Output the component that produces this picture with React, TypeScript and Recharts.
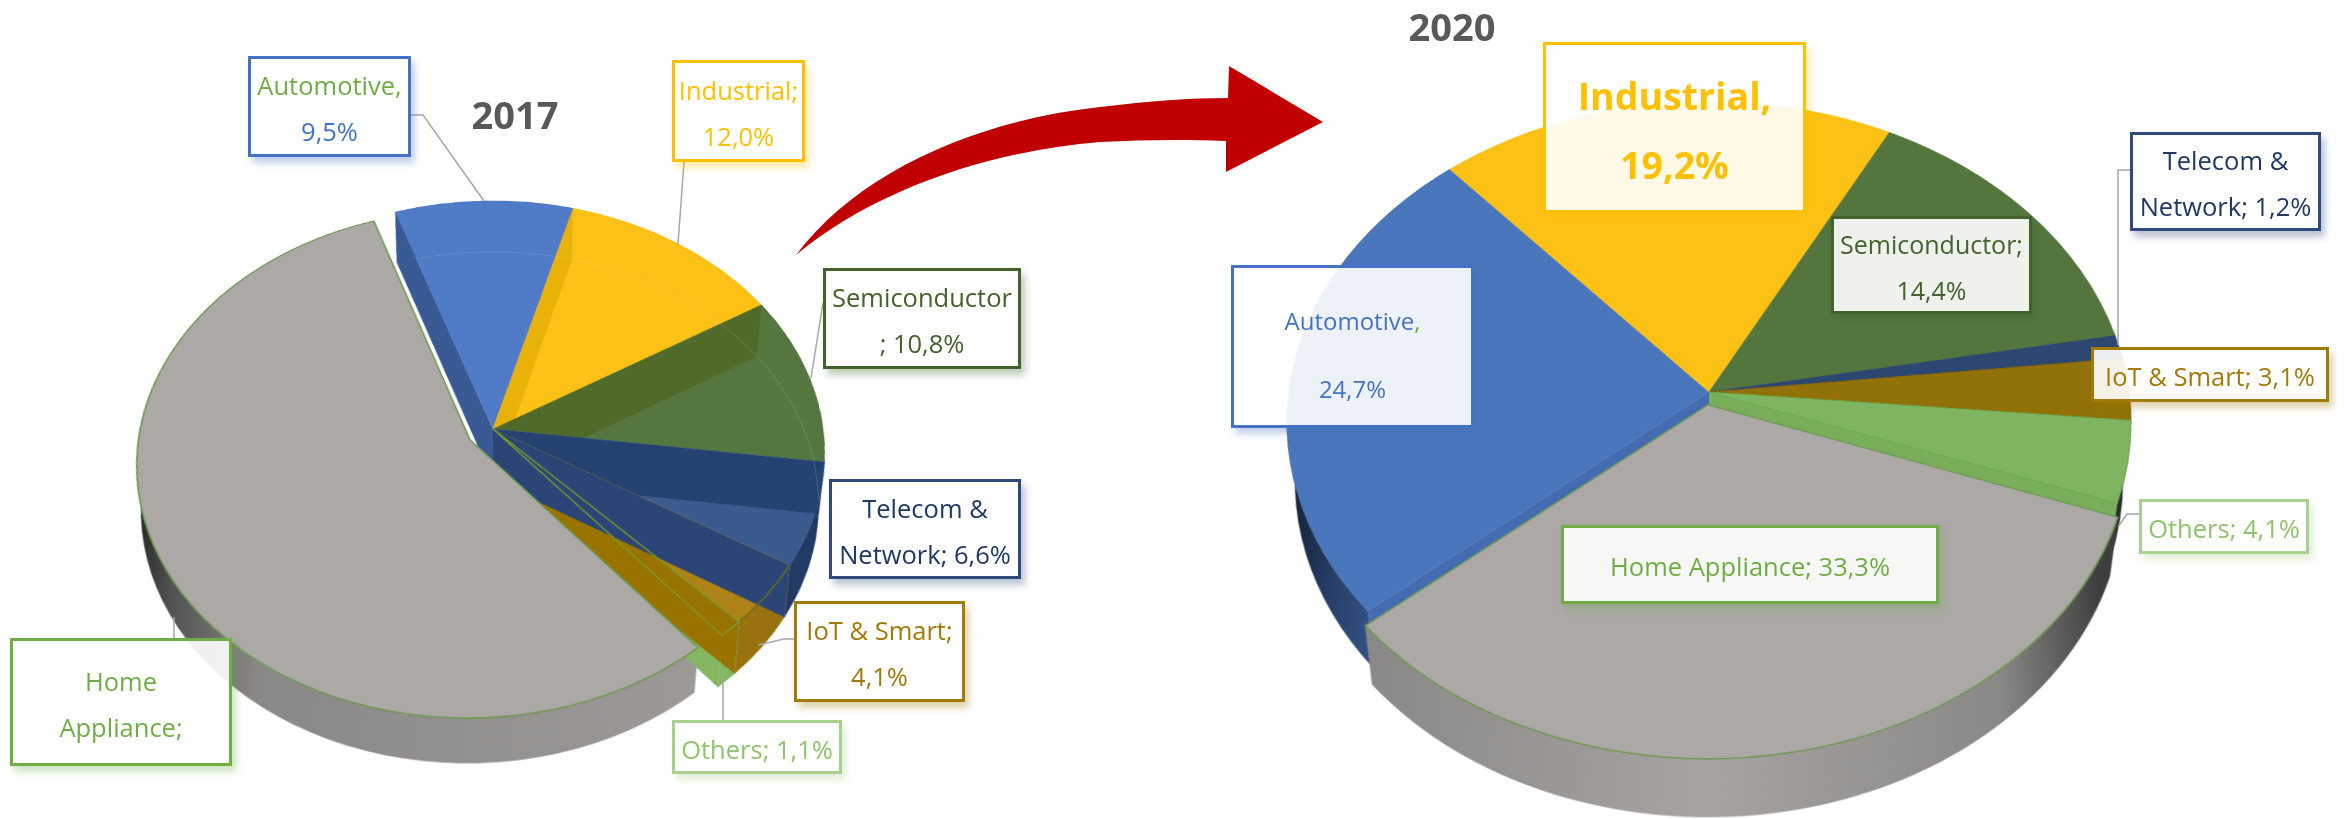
import { PieChart, Pie, Sector } from "recharts";

const categories = ["Automotive", "Industrial", "Semiconductor", "Telecom & Network", "IoT & Smart", "Others", "Home Appliance"];
const values2017 = [9.5, 12.0, 10.8, 6.6, 4.1, 1.1, 55.9];
const values2020 = [24.7, 19.2, 14.4, 1.2, 3.1, 4.1, 33.3];

const HOME = "Home Appliance";
const rows2017 = categories.map((name, i) => ({ name, value: values2017[i] }));
const rows2020 = categories.map((name, i) => ({ name, value: values2020[i] }));

// colours
const faces2017: any = { Automotive: "#507bc7", Industrial: "#fbc117", Semiconductor: "#55763f", "Telecom & Network": "#3b5a8f", "IoT & Smart": "#ad8216", Others: "#a07a08" };
const walls2017: any = { Industrial: "#e9b208", Semiconductor: "#506a29", "Telecom & Network": "#254370" };
const rims2017: any = { Automotive: "#3a5a96", Industrial: "#c49a10", Semiconductor: "#4b6a34", "Telecom & Network": "#223a66", "IoT & Smart": "#98720e", Others: "#85b662" };
const faces2020: any = { Automotive: "#4a76bb", Industrial: "#fcc115", Semiconductor: "#54763e", "Telecom & Network": "#2c4770", "IoT & Smart": "#917208", Others: "#7fb561" };

// geometry of a tilted disc
const TILT = 40.8;
const C_PAD = 130;

const pt = (cx: number, cy: number, r: number, deg: number) => {
  const a = (-deg * Math.PI) / 180;
  return [cx + r * Math.cos(a), cy + r * Math.sin(a)];
};

const sectorPath = (p: any) => {
  const [x0, y0] = pt(p.cx, p.cy, p.outerRadius, p.startAngle);
  const [x1, y1] = pt(p.cx, p.cy, p.outerRadius, p.endAngle);
  const large = Math.abs(p.startAngle - p.endAngle) > 180 ? 1 : 0;
  return `M${p.cx},${p.cy}L${x0},${y0}A${p.outerRadius},${p.outerRadius} 0 ${large} 1 ${x1},${y1}Z`;
};

const arcPath = (p: any) => {
  const [x0, y0] = pt(p.cx, p.cy, p.outerRadius, p.startAngle);
  const [x1, y1] = pt(p.cx, p.cy, p.outerRadius, p.endAngle);
  return `M${x0},${y0}A${p.outerRadius},${p.outerRadius} 0 0 1 ${x1},${y1}`;
};

// the underside of the disc is smaller than the top: radius r2, pushed down by d
const ribbonPath = (p: any, r2: number, d: number) => {
  const r = p.outerRadius;
  const [x0, y0] = pt(p.cx, p.cy, r, p.startAngle);
  const [x1, y1] = pt(p.cx, p.cy, r, p.endAngle);
  const [x2, y2] = pt(p.cx, p.cy + d, r2, p.endAngle);
  const [x3, y3] = pt(p.cx, p.cy + d, r2, p.startAngle);
  const large = Math.abs(p.startAngle - p.endAngle) > 180 ? 1 : 0;
  return `M${x0},${y0}A${r},${r} 0 ${large} 1 ${x1},${y1}L${x2},${y2}A${r2},${r2} 0 ${large} 0 ${x3},${y3}Z`;
};

const wallPath = (p: any, deg: number, r2: number, d: number) => {
  const [x, y] = pt(p.cx, p.cy, p.outerRadius, deg);
  const [x2, y2] = pt(p.cx, p.cy + d, r2, deg);
  return `M${p.cx},${p.cy}L${x},${y}L${x2},${y2}L${p.cx},${p.cy + d}Z`;
};

const nameOf = (p: any) => p.payload?.name ?? p.name;

const rimShape = (fills: any, r2: number, d: number) => (p: any) => {
  const fill = fills[nameOf(p)];
  return fill ? <path d={ribbonPath(p, r2, d)} fill={fill} stroke={fill} strokeWidth={0.5} /> : <g />;
};

// wall hanging under one edge of a slice
const edgeWall = (fills: any, r2: number, d: number, edge: "startAngle" | "endAngle") => (p: any) => {
  const fill = fills[nameOf(p)];
  return fill ? <path d={wallPath(p, p[edge], r2, d)} fill={fill} /> : <g />;
};

const flatFace = (fills: any, strokes: any) => (p: any) => {
  const name = nameOf(p);
  const fill = fills[name];
  if (!fill) return <g />;
  return <Sector cx={p.cx} cy={p.cy} innerRadius={0} outerRadius={p.outerRadius} startAngle={p.startAngle} endAngle={p.endAngle} fill={fill} stroke={strokes[name] ?? fill} strokeWidth={strokes[name] ? 1.2 : 0.6} />;
};

// translucent look of the 2017 slices: bottom arc and start wall seen through the top
const glassFace = (r2: number, d: number) => (p: any) => {
  const name = nameOf(p);
  const fill = faces2017[name];
  if (!fill) return <g />;
  const id = "clip-" + name.replace(/[^a-zA-Z]/g, "");
  return (
    <g>
      <clipPath id={id}><path d={sectorPath(p)} /></clipPath>
      <path d={sectorPath(p)} fill={fill} stroke={fill} strokeWidth={0.6} />
      <g clipPath={`url(#${id})`}>
        {walls2017[name] && <path d={wallPath(p, p.startAngle, r2, d)} fill={walls2017[name]} />}
        <circle cx={p.cx} cy={p.cy + d} r={r2} fill="none" stroke="rgba(255,255,255,0.16)" strokeWidth={1} />
      </g>
    </g>
  );
};

const othersOutline = (p: any) => {
  const name = nameOf(p);
  if (name === "Others") return <path d={sectorPath(p)} fill="none" stroke="#7c9a2e" strokeWidth={1.5} />;
  if (name === "IoT & Smart") return <path d={arcPath(p)} fill="none" stroke="#6f6a1e" strokeWidth={1.5} />;
  return <g />;
};

const homeFace = (p: any) =>
  nameOf(p) === HOME ? (
    <Sector cx={p.cx} cy={p.cy} innerRadius={0} outerRadius={p.outerRadius} startAngle={p.startAngle} endAngle={p.endAngle} fill="#aba8a6" stroke="#6e9a50" strokeWidth={1.6} />
  ) : (
    <g />
  );

function Disc({ hub, radius, persp, start, rows, layers, children }: any) {
  const size = radius + C_PAD;
  return (
    <div
      style={{
        position: "absolute",
        left: hub[0] - size,
        top: hub[1] - size,
        width: size * 2,
        height: size * 2,
        transformOrigin: `${size}px ${size}px`,
        transform: `perspective(${persp}px) rotateX(${TILT}deg)`,
      }}
    >
      <PieChart width={size * 2} height={size * 2} margin={{ top: 0, right: 0, bottom: 0, left: 0 }}>
        {children}
        {(layers as any[]).map((layer, i) => (
          <Pie
            key={i}
            data={rows}
            dataKey="value"
            nameKey="name"
            cx={size + layer.dx}
            cy={size + layer.dy}
            innerRadius={0}
            outerRadius={radius}
            startAngle={start}
            endAngle={start - 360}
            stroke="none"
            isAnimationActive={false}
            labelLine={false}
            shape={layer.shape}
          />
        ))}
      </PieChart>
    </div>
  );
}

const layers2017 = [
  { dx: 0, dy: 0, shape: rimShape(rims2017, 318, 67) },
  { dx: -23, dy: 14, shape: rimShape({ [HOME]: "url(#wall17)" }, 320, 57.5) },
  { dx: 0, dy: 0, shape: edgeWall({ Automotive: "#3a5a96" }, 318, 67, "startAngle") },
  { dx: 0, dy: 0, shape: glassFace(318, 67) },
  { dx: 0, dy: 0, shape: edgeWall({ Others: "#85b662" }, 318, 67, "endAngle") },
  { dx: 0, dy: 0, shape: edgeWall({ Others: "#997300" }, 318, 67, "startAngle") },
  { dx: 0, dy: 0, shape: edgeWall({ "Telecom & Network": "#2b4676" }, 318, 67, "endAngle") },
  { dx: 0, dy: 0, shape: othersOutline },
  { dx: -23, dy: 14, shape: homeFace },
];

const layers2020 = [
  { dx: 0, dy: 0, shape: rimShape({ Automotive: "url(#blue20)", Others: "#2c2c2c" }, 405, 76.5) },
  { dx: 0, dy: 0, shape: edgeWall({ Automotive: "#456cb0" }, 405, 76.5, "startAngle") },
  { dx: 0, dy: 0, shape: edgeWall({ Others: "#78ad5a" }, 405, 76.5, "endAngle") },
  { dx: -1, dy: 17, shape: rimShape({ [HOME]: "url(#wall20)" }, 405, 76.5) },
  { dx: 0, dy: 0, shape: flatFace(faces2020, { Others: "#6aa84f", "IoT & Smart": "#8a6200" }) },
  { dx: -1, dy: 17, shape: homeFace },
];

// callouts
const boxes: any[] = [
  { at: [248, 56, 163, 101], border: "#4472c4", lines: [[["Automotive,", "#70ad47"]], [["9,5%", "#4472c4"]]] },
  { at: [672, 60, 133, 102], border: "#ffc000", lines: [[["Industrial;", "#ffc000"]], [["12,0%", "#ffc000"]]] },
  { at: [823, 268, 198, 101], border: "#44622c", lines: [[["Semiconductor", "#44622c"]], [["; 10,8%", "#44622c"]]] },
  { at: [829, 479, 192, 100], border: "#2f4a7a", lines: [[["Telecom &", "#203864"]], [["Network; 6,6%", "#203864"]]] },
  { at: [794, 601, 171, 101], border: "#a17a0a", lines: [[["IoT & Smart;", "#a17a0a"]], [["4,1%", "#a17a0a"]]] },
  { at: [672, 720, 170, 54], border: "#a9d18e", lines: [[["Others; 1,1%", "#8fc36c"]]] },
  { at: [10, 638, 222, 128], border: "#70ad47", lines: [[["Home", "#70ad47"]], [["Appliance;", "#70ad47"]]] },
  { at: [1543, 42, 263, 171], border: "#ffc000", size: 37.5, weight: 700, gap: 69, dy: 5, lines: [[["Industrial,", "#ffc000"]], [["19,2%", "#ffc000"]]] },
  { at: [2130, 132, 191, 99], border: "#2f4a7a", lines: [[["Telecom &", "#203864"]], [["Network; 1,2%", "#203864"]]] },
  { at: [1831, 216, 201, 98], border: "#44622c", size: 25, lines: [[["Semiconductor;", "#44622c"]], [["14,4%", "#44622c"]]] },
  { at: [2091, 347, 238, 55], border: "#a17a0a", lines: [[["IoT & Smart; 3,1%", "#a17a0a"]]] },
  { at: [2139, 499, 170, 55], border: "#a9d18e", lines: [[["Others; 4,1%", "#8fc36c"]]] },
  { at: [1561, 525, 378, 79], border: "#70ad47", lines: [[["Home Appliance; 33,3%", "#70ad47"]]] },
  { at: [1231, 265, 243, 163], border: "#4472c4", size: 24, gap: 68, dy: 16, lines: [[["Automotive", "#4472c4"], [",", "#70ad47"]], [["24,7%", "#4472c4"]]] },
];

const leaders = [
  "411,115 423,115 484,201",
  "684,162 678,244",
  "823,303 811,378",
  "794,639 784,639 758,645",
  "723,720 723,678",
  "174,617 174,638",
  "2130,170 2118,170 2118,345",
  "2140,514 2127,514 2118,527",
];

const FONT = '"Open Sans", "Noto Sans", sans-serif';

function Callout({ box }: any) {
  const [left, top, width, height] = box.at;
  return (
    <div
      style={{
        position: "absolute",
        left,
        top,
        width,
        height,
        boxSizing: "border-box",
        border: `3px solid ${box.border}`,
        background: "rgba(255,255,255,0.9)",
        boxShadow: `4px 6px 7px ${box.border}55`,
        display: "flex",
        flexDirection: "column",
        alignItems: "center",
        justifyContent: "center",
        paddingTop: box.dy ?? 3,
        fontFamily: FONT,
        fontSize: box.size ?? 25.5,
        fontWeight: box.weight ?? 400,
        lineHeight: `${box.gap ?? 46}px`,
        whiteSpace: "nowrap",
      }}
    >
      {box.lines.map((line: any[], i: number) => (
        <div key={i}>
          {line.map(([text, color]: any, j: number) => (
            <span key={j} style={{ color }}>{text}</span>
          ))}
        </div>
      ))}
    </div>
  );
}

const titleStyle: any = { position: "absolute", fontFamily: FONT, fontWeight: 700, fontSize: 38, color: "#595959", lineHeight: "40px", transform: "translate(-50%, -50%)" };

export default function App() {
  return (
    <div style={{ position: "absolute", left: 0, top: 0, width: 2344, height: 819, overflow: "hidden", background: "#fff" }}>
      <Disc hub={[493, 429]} radius={330} persp={2266} start={108.8} rows={rows2017} layers={layers2017}>
        <defs>
          <linearGradient id="wall17" gradientUnits="userSpaceOnUse" x1={107} x2={797} y1={0} y2={0}>
            <stop offset="0" stopColor="#1c1c1c" />
            <stop offset="0.07" stopColor="#505050" />
            <stop offset="0.2" stopColor="#8a8886" />
            <stop offset="1" stopColor="#a3a09e" />
          </linearGradient>
        </defs>
      </Disc>
      <Disc hub={[1708.5, 392]} radius={420} persp={2905} start={220.3} rows={rows2020} layers={layers2020}>
        <defs>
          <linearGradient id="wall20" gradientUnits="userSpaceOnUse" x1={130} x2={970} y1={0} y2={0}>
            <stop offset="0.05" stopColor="#858381" />
            <stop offset="0.5" stopColor="#a6a3a1" />
            <stop offset="0.82" stopColor="#8a8886" />
            <stop offset="0.94" stopColor="#3e3e3e" />
          </linearGradient>
          <linearGradient id="blue20" gradientUnits="userSpaceOnUse" x1={130} x2={290} y1={0} y2={0}>
            <stop offset="0" stopColor="#0e1626" />
            <stop offset="0.45" stopColor="#2a4470" />
            <stop offset="1" stopColor="#3f66a6" />
          </linearGradient>
        </defs>
      </Disc>

      <svg width={2344} height={819} style={{ position: "absolute", left: 0, top: 0 }}>
        <path
          d="M796,255 C860,170 980,120 1100,107 C1150,101 1190,98 1228,98 L1229,66 L1323,122 L1226,172 L1226,141 C1180,139 1140,140 1100,142 C1000,150 880,185 796,255 Z"
          fill="#c00000"
        />
        {leaders.map((points, i) => (
          <polyline key={i} points={points} fill="none" stroke="#a6a6a6" strokeWidth={1.5} />
        ))}
      </svg>

      {boxes.map((box, i) => (
        <Callout key={i} box={box} />
      ))}

      <div style={{ ...titleStyle, left: 515, top: 114 }}>2017</div>
      <div style={{ ...titleStyle, left: 1452, top: 26 }}>2020</div>
    </div>
  );
}
